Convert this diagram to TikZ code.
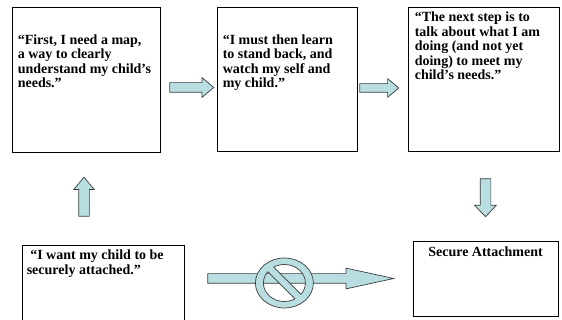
\documentclass[tikz,border=0pt]{standalone}
\usepackage{fontspec}
\setmainfont{Liberation Serif}
\usepackage{tikz}
\usetikzlibrary{calc}
\usetikzlibrary{positioning}
\usetikzlibrary{shapes.arrows}
\definecolor{arrowfill}{RGB}{184,222,225}
\definecolor{arrowline}{RGB}{60,60,60}
\tikzstyle{every node}+=[inner sep=0pt]
\tikzstyle{card} = [rectangle, draw, line width=0.8pt]
\tikzstyle{saying} = [font=\fontsize{14}{14.5}\selectfont\bfseries, align=left]
\tikzstyle{barrow} = [single arrow, draw=arrowline, fill=arrowfill, line width=0.7pt, anchor=tail, inner xsep=0pt, inner ysep=4.5pt, single arrow head extend=5pt, single arrow head indent=0pt, single arrow tip angle=80]
\tikzstyle{nosign} = [arrowline, line width=0.7pt]

\begin{document}
\begin{tikzpicture}[x=1pt, y=1pt]
            \clip (0,0) rectangle (562,320);
            % Place nodes
            \node [card, minimum width=148pt, minimum height=145pt] (b1) at (86,240.5) {};
            \node [card, minimum width=140pt, minimum height=144pt] (b2) at (287,241) {};
            \node [card, minimum width=150.5pt, minimum height=144pt] (b3) at (483.75,241) {};
            \node [card, minimum width=162pt, minimum height=90pt] (b4) at (103,30) {};
            \node [card, minimum width=145pt, minimum height=75pt] (b5) at (485.5,41.5) {};
            \node [saying, below right=27.7pt and 6pt of b1.north west] (t1) {“First, I need a map,\\a way to clearly\\understand my child’s\\needs.”};
            \node [saying, below right=27.7pt and 6pt of b2.north west] (t2) {“I must then learn\\to stand back, and\\watch my self and\\my child.”};
            \node [saying, below right=5pt and 6.5pt of b3.north west] (t3) {“The next step is to\\talk about what I am\\doing (and not yet\\doing) to meet my\\child’s needs.”};
            \node [saying, below right=5.4pt and 5pt of b4.north west] (t4) {\hspace*{3.5pt}“I want my child to be\\securely attached.”};
            \node [saying, align=center, below=6.4pt of b5.north] (t5) {Secure Attachment};
            % Block arrows
            \node [barrow, minimum height=44pt] (a1) at ($(b1.east)+(9,-8)$) {};
            \node [barrow, minimum height=39pt, inner ysep=4pt] (a2) at ($(b2.east)+(2,-9)$) {};
            \node [barrow, minimum height=39pt, inner ysep=5pt, rotate=90] (a3) at ($(b4.north)+(-19,28)$) {};
            \node [barrow, minimum height=38pt, inner ysep=5pt, single arrow head extend=5.5pt, single arrow tip angle=87, rotate=-90] (a4) at ($(b3.south)+(1.75,-27)$) {};
            \node [barrow, minimum height=186pt, single arrow head extend=5.5pt, single arrow tip angle=24.5] (a5) at ($(b4.east)+(23,11.5)$) {};
            % No sign over the arrow
            \begin{scope}[shift={($(a5.tail)+(77,-4.5)$)}]
              \fill [arrowfill, even odd rule] (0,0) ellipse [x radius=29, y radius=25] (0,0) ellipse [x radius=21, y radius=18.5];
              \draw [nosign] (0,0) ellipse [x radius=29, y radius=25];
              \draw [nosign] (0,0) ellipse [x radius=21, y radius=18.5];
              \begin{scope}
                \clip (0,0) ellipse [x radius=25, y radius=21.75];
                \fill [arrowfill] (-37.4,42.6) -- (42.6,-37.4) -- (37.4,-42.6) -- (-42.6,37.4) -- cycle;
              \end{scope}
              \begin{scope}
                \clip (0,0) ellipse [x radius=21, y radius=18.5];
                \draw [nosign] (-37.4,42.6) -- (42.6,-37.4) (37.4,-42.6) -- (-42.6,37.4);
              \end{scope}
            \end{scope}
\end{tikzpicture}
\end{document}
